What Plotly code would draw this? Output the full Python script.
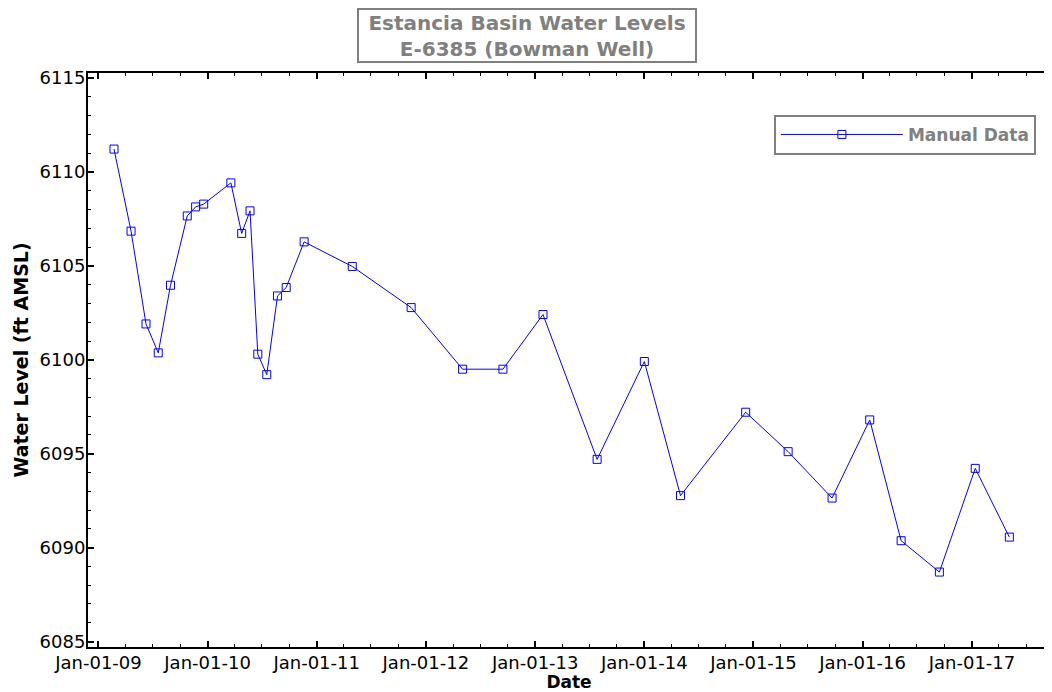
import plotly.graph_objects as go

# ---- data ----
dates = [
    "2009-02-22", "2009-04-20", "2009-06-09", "2009-07-20", "2009-08-30",
    "2009-10-25", "2009-11-22", "2009-12-19", "2010-03-20", "2010-04-25",
    "2010-05-23", "2010-06-18", "2010-07-18", "2010-08-23", "2010-09-21",
    "2010-11-20", "2011-04-30", "2011-11-13", "2012-05-03", "2012-09-15",
    "2013-01-27", "2013-07-27", "2014-01-01", "2014-05-02", "2014-12-06",
    "2015-04-27", "2015-09-21", "2016-01-25", "2016-05-09", "2016-09-14",
    "2017-01-12", "2017-05-06",
]
water_level = [
    6111.22, 6106.85, 6101.91, 6100.37, 6103.97,
    6107.66, 6108.14, 6108.29, 6109.42, 6106.73,
    6107.93, 6100.30, 6099.21, 6103.40, 6103.85,
    6106.28, 6104.97, 6102.78, 6099.50, 6099.50,
    6102.41, 6094.70, 6099.91, 6092.77, 6097.21,
    6095.11, 6092.64, 6096.80, 6090.37, 6088.70,
    6094.22, 6090.56,
]
series_name = "Manual Data"
title_lines = ["Estancia Basin Water Levels", "E-6385 (Bowman Well)"]
x_title = "Date"
y_title = "Water Level (ft AMSL)"

FONT = "DejaVu Sans"
GREY = "#808080"
BLUE = "#0000FF"

fig = go.Figure()
fig.add_trace(go.Scatter(
    x=dates, y=water_level, name=series_name, mode="lines+markers",
    line=dict(color=BLUE, width=1),
    marker=dict(symbol="square-open", size=8, color=BLUE, line=dict(width=1, color=BLUE)),
))

axis_common = dict(
    showline=True, linecolor="black", linewidth=2, mirror="allticks",
    ticks="inside", ticklen=6, tickwidth=2, tickcolor="black",
    showgrid=False, zeroline=False, automargin=False,
    tickfont=dict(family=FONT, size=18, color="black"),
)

fig.update_xaxes(
    type="date", range=["2008-11-27", "2017-09-19"],
    tick0="2009-01-01", dtick="M12", tickformat="%b-%d-%y",
    ticklabelstandoff=-2,
    minor=dict(dtick="M3", ticks="inside", ticklen=3, tickwidth=1, tickcolor="black", showgrid=False),
    title=dict(text=x_title, font=dict(family=FONT, size=17, color="black", weight="bold"), standoff=2),
    **axis_common,
)
fig.update_yaxes(
    range=[6084.71, 6115.27], tick0=6085, dtick=5,
    ticklabelstandoff=-3,
    minor=dict(dtick=1, ticks="inside", ticklen=3, tickwidth=1, tickcolor="black", showgrid=False),
    title=dict(text=y_title, font=dict(family=FONT, size=19, color="black", weight="bold"), standoff=6),
    **axis_common,
)

fig.add_annotation(
    text="<br>".join(title_lines), xref="paper", yref="paper",
    x=0.4563, y=1.0653, xanchor="center", yanchor="middle", showarrow=False,
    font=dict(family=FONT, size=20, color=GREY, weight="bold"),
    bordercolor=GREY, borderwidth=2, borderpad=2, bgcolor="white",
    width=332, height=47,
)

# the page body adds an 8px offset, so the figure is drawn 8px smaller
fig.update_layout(
    width=1044, height=684,
    margin=dict(l=80, r=2, t=65, b=45, autoexpand=False),
    paper_bgcolor="white", plot_bgcolor="white",
    showlegend=True,
    legend=dict(
        x=0.713, y=0.927, xanchor="left", yanchor="top",
        bordercolor=GREY, borderwidth=2, bgcolor="white",
        font=dict(family=FONT, size=17, color=GREY, weight="bold"),
        itemwidth=122,
    ),
)

fig.write_html("out.html")
